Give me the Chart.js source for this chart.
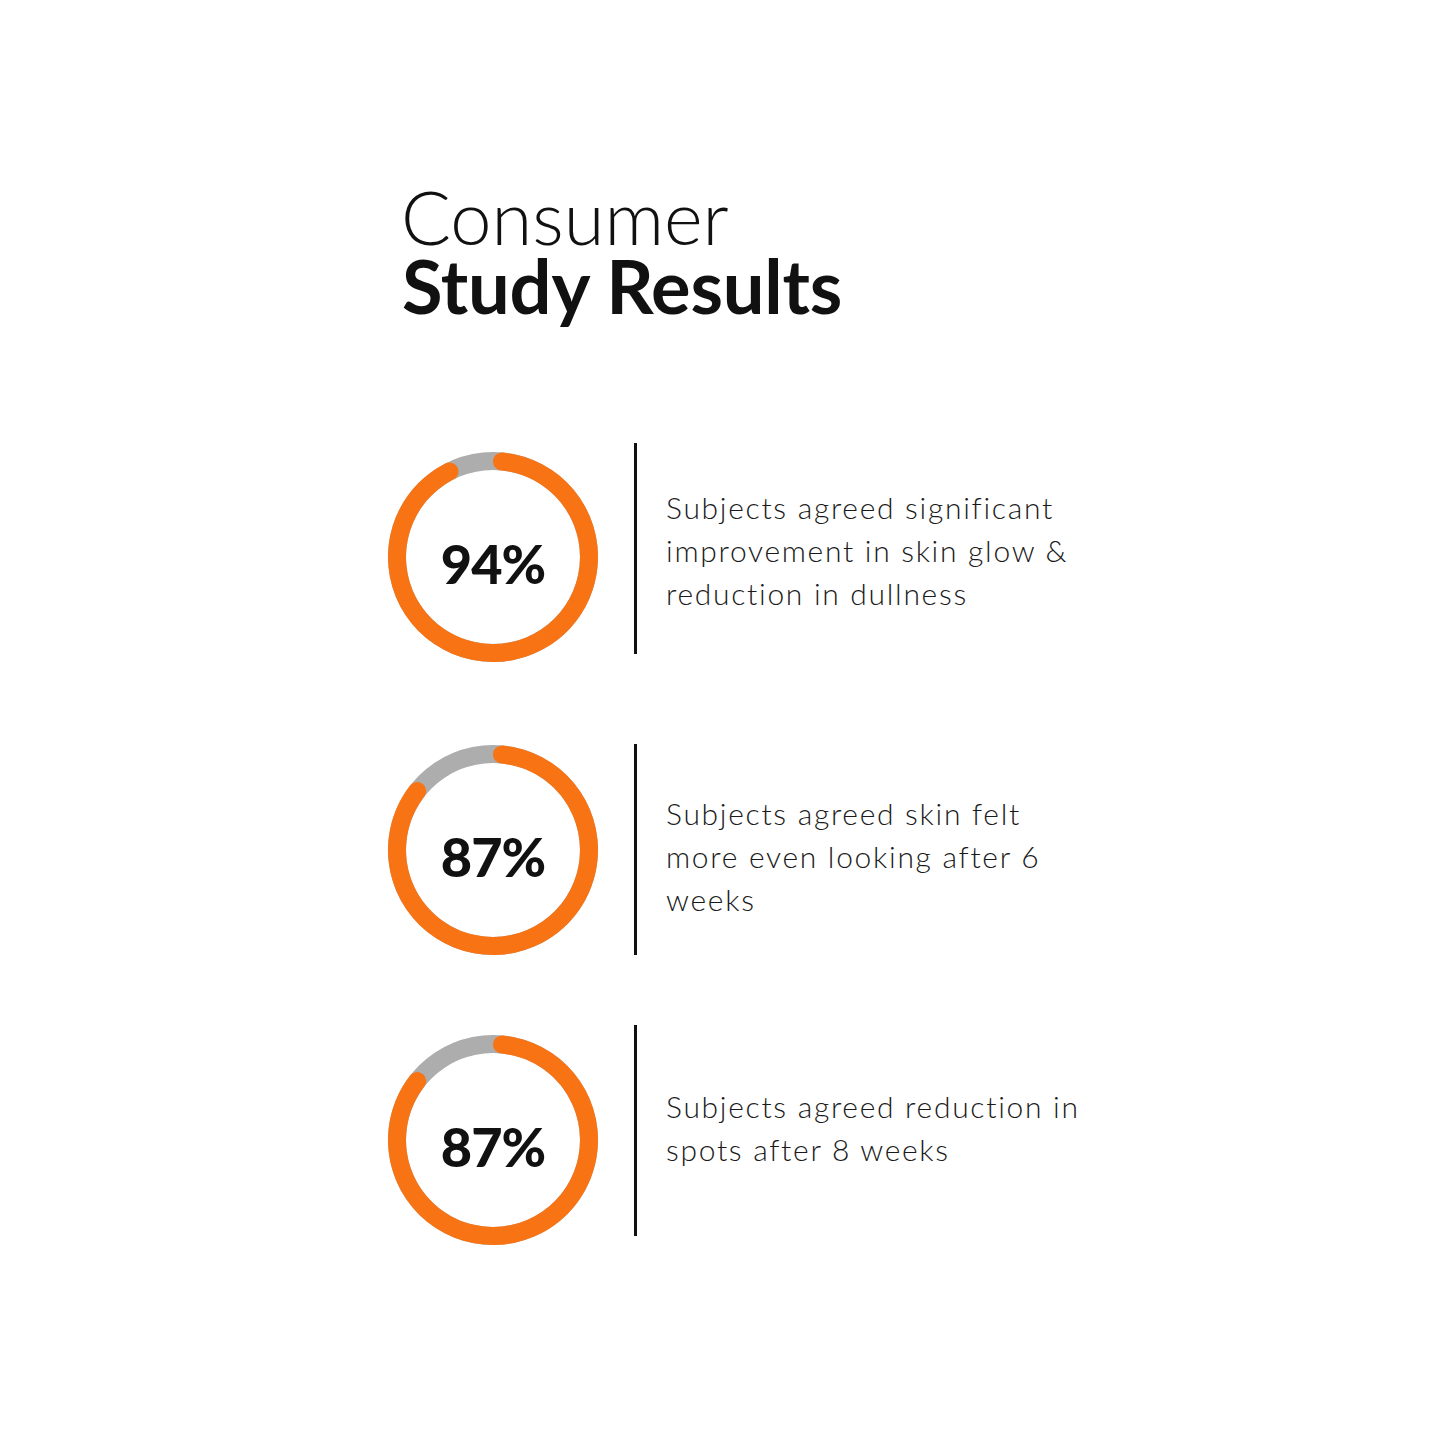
<!DOCTYPE html>
<html>
<head>
<meta charset="utf-8">
<script src="https://cdn.jsdelivr.net/npm/chart.js@4.4.1/dist/chart.umd.min.js"></script>
<style>
  html, body { margin: 0; padding: 0; background: #ffffff; }
  body { width: 1445px; height: 1445px; position: relative; overflow: hidden; font-family: Lato, "Noto Sans", sans-serif; color: #111; }
  .title1 { position: absolute; left: 401px; top: 185px; height: 64px; font-size: 74px; font-weight: 300; line-height: 64px; letter-spacing: 0px; white-space: nowrap; }
  .title2 { position: absolute; left: 402px; top: 254px; height: 64px; font-size: 74px; font-weight: 700; line-height: 64px; letter-spacing: -0.2px; white-space: nowrap; }
  .ring { position: absolute; width: 210px; height: 210px; }
  .ring canvas { position: absolute; left: 0; top: 0; }
  .pct { position: absolute; left: 0; top: 6px; width: 210px; height: 210px; display: flex; align-items: center; justify-content: center; font-size: 54px; font-weight: 900; color: #111; letter-spacing: -1px; }
  .vline { position: absolute; width: 3px; background: #111; }
  .desc { position: absolute; left: 666px; font-size: 30px; font-weight: 300; line-height: 43px; letter-spacing: 1.7px; color: #1a1a1a; white-space: nowrap; }
</style>
</head>
<body>
<div class="title1">Consumer</div>
<div class="title2">Study Results</div>
<div id="rows"></div>
<script>
const values = [94, 87, 87];
const descriptions = [
  ["Subjects agreed significant", "improvement in skin glow &", "reduction in dullness"],
  ["Subjects agreed skin felt", "more even looking after 6", "weeks"],
  ["Subjects agreed reduction in", "spots after 8 weeks"]
];
const centersY = [557, 850, 1140];
const lineTops = [443, 744, 1025];
const textTops = [486, 792, 1085];

const ORANGE = '#F77314';
const GREY = '#ADADAD';
const rows = document.getElementById('rows');

values.forEach((v, i) => {
  const ring = document.createElement('div');
  ring.className = 'ring';
  ring.style.left = (493 - 105) + 'px';
  ring.style.top = (centersY[i] - 105) + 'px';
  const c1 = document.createElement('canvas');
  const c2 = document.createElement('canvas');
  ring.appendChild(c1); ring.appendChild(c2);
  const pct = document.createElement('div');
  pct.className = 'pct';
  pct.textContent = v + '%';
  ring.appendChild(pct);
  rows.appendChild(ring);

  const base = {
    responsive: false,
    animation: false,
    cutout: 87,
    layout: { padding: 0 },
    plugins: { legend: { display: false }, tooltip: { enabled: false } },
    events: []
  };
  c1.width = 210; c1.height = 210;
  c2.width = 210; c2.height = 210;
  new Chart(c1, {
    type: 'doughnut',
    data: { datasets: [{ data: [100], backgroundColor: [GREY], borderWidth: 0 }] },
    options: base
  });
  new Chart(c2, {
    type: 'doughnut',
    data: { datasets: [{ data: [v, 100 - v], backgroundColor: [ORANGE, 'rgba(0,0,0,0)'], borderWidth: 0, borderRadius: [9, 0] }] },
    options: base
  });

  const line = document.createElement('div');
  line.className = 'vline';
  line.style.left = '634px';
  line.style.top = lineTops[i] + 'px';
  line.style.height = '211px';
  rows.appendChild(line);

  const d = document.createElement('div');
  d.className = 'desc';
  d.style.top = textTops[i] + 'px';
  d.innerHTML = descriptions[i].join('<br>');
  rows.appendChild(d);
});
</script>
</body>
</html>
